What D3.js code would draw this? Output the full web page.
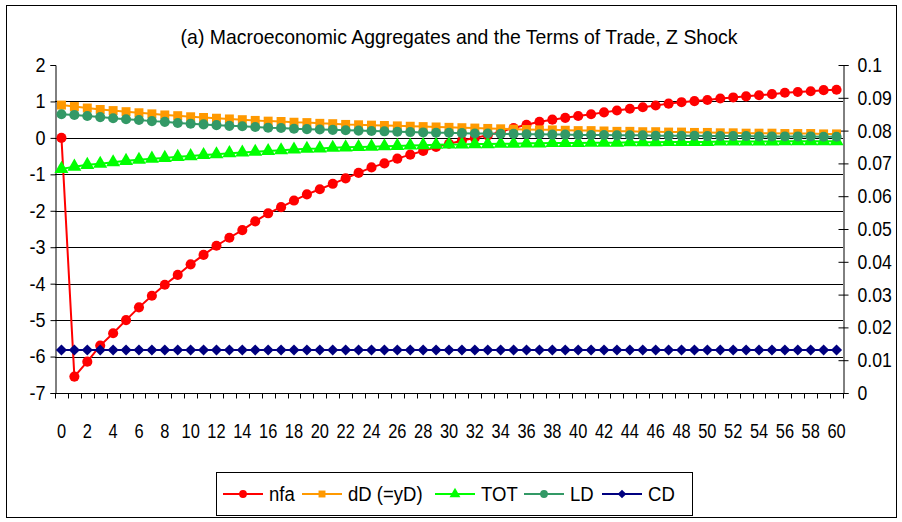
<!DOCTYPE html>
<html><head><meta charset="utf-8">
<script src="https://cdn.jsdelivr.net/npm/d3@7"></script>
<style>
body{margin:0;background:#fff;}
svg{display:block;font-family:"Liberation Sans",Arial,sans-serif;}
</style></head>
<body><svg id="c" width="902" height="522"></svg>
<script>
const title = "(a) Macroeconomic Aggregates and the Terms of Trade, Z Shock";
const periods = d3.range(0, 61);
const nfa = [0, -6.55, -6.14, -5.70, -5.36, -5.00, -4.65, -4.33, -4.03, -3.76, -3.47, -3.21, -2.96, -2.74, -2.53, -2.29, -2.07, -1.90, -1.72, -1.55, -1.41, -1.26, -1.11, -0.96, -0.81, -0.70, -0.57, -0.46, -0.36, -0.25, -0.16, -0.08, 0.00, 0.07, 0.17, 0.27, 0.36, 0.44, 0.50, 0.55, 0.60, 0.65, 0.70, 0.75, 0.80, 0.84, 0.89, 0.94, 0.98, 1.01, 1.04, 1.08, 1.11, 1.14, 1.17, 1.20, 1.24, 1.26, 1.28, 1.31, 1.32];
const dD = [0.90, 0.86, 0.82, 0.78, 0.75, 0.72, 0.69, 0.66, 0.63, 0.61, 0.58, 0.56, 0.54, 0.52, 0.50, 0.48, 0.46, 0.45, 0.43, 0.42, 0.40, 0.39, 0.37, 0.36, 0.35, 0.34, 0.33, 0.32, 0.31, 0.30, 0.29, 0.28, 0.27, 0.26, 0.25, 0.24, 0.23, 0.22, 0.22, 0.21, 0.20, 0.20, 0.19, 0.18, 0.18, 0.17, 0.17, 0.16, 0.16, 0.15, 0.15, 0.14, 0.14, 0.13, 0.13, 0.13, 0.12, 0.12, 0.12, 0.11, 0.11];
const TOT = [-0.85, -0.79, -0.74, -0.71, -0.67, -0.63, -0.60, -0.57, -0.55, -0.52, -0.50, -0.47, -0.45, -0.42, -0.40, -0.38, -0.36, -0.34, -0.32, -0.30, -0.29, -0.27, -0.26, -0.25, -0.24, -0.23, -0.22, -0.21, -0.20, -0.19, -0.18, -0.18, -0.17, -0.17, -0.16, -0.16, -0.15, -0.15, -0.14, -0.14, -0.14, -0.13, -0.13, -0.13, -0.12, -0.12, -0.12, -0.11, -0.11, -0.11, -0.11, -0.10, -0.10, -0.10, -0.10, -0.10, -0.09, -0.09, -0.09, -0.09, -0.09];
const LD = [0.65, 0.63, 0.60, 0.57, 0.54, 0.51, 0.49, 0.46, 0.44, 0.41, 0.39, 0.37, 0.35, 0.33, 0.32, 0.30, 0.28, 0.27, 0.25, 0.24, 0.23, 0.22, 0.21, 0.20, 0.19, 0.18, 0.17, 0.16, 0.15, 0.14, 0.14, 0.13, 0.12, 0.12, 0.11, 0.11, 0.10, 0.10, 0.09, 0.09, 0.08, 0.08, 0.08, 0.07, 0.07, 0.07, 0.06, 0.06, 0.06, 0.06, 0.05, 0.05, 0.05, 0.05, 0.04, 0.04, 0.04, 0.04, 0.04, 0.03, 0.03];
const CD = [0.0131, 0.0131, 0.0131, 0.0131, 0.0131, 0.0131, 0.0131, 0.0131, 0.0131, 0.0131, 0.0131, 0.0131, 0.0131, 0.0131, 0.0131, 0.0131, 0.0131, 0.0131, 0.0131, 0.0131, 0.0131, 0.0131, 0.0131, 0.0131, 0.0131, 0.0131, 0.0131, 0.0131, 0.0131, 0.0131, 0.0131, 0.0131, 0.0131, 0.0131, 0.0131, 0.0131, 0.0131, 0.0131, 0.0131, 0.0131, 0.0131, 0.0131, 0.0131, 0.0131, 0.0131, 0.0131, 0.0131, 0.0131, 0.0131, 0.0131, 0.0131, 0.0131, 0.0131, 0.0131, 0.0131, 0.0131, 0.0131, 0.0131, 0.0131, 0.0131, 0.0131];
const leftTicks = [-7, -6, -5, -4, -3, -2, -1, 0, 1, 2];
const rightTicks = [0, 0.01, 0.02, 0.03, 0.04, 0.05, 0.06, 0.07, 0.08, 0.09, 0.1];
const seriesNames = ["nfa", "dD (=yD)", "TOT", "LD", "CD"];

const series = [
  {name: seriesNames[0], values: nfa, color: "#FF0000", sym: "circle", axis: "L"},
  {name: seriesNames[1], values: dD, color: "#FF9900", sym: "square", axis: "L"},
  {name: seriesNames[2], values: TOT, color: "#00FF00", sym: "triangle", axis: "L"},
  {name: seriesNames[3], values: LD, color: "#339966", sym: "circle", axis: "L"},
  {name: seriesNames[4], values: CD, color: "#000080", sym: "diamond", axis: "R"}
];

function squeeze(sel, f) {
  sel.each(function () {
    const L = this.getComputedTextLength();
    if (L > 0) {
      this.setAttribute("textLength", L * f);
      this.setAttribute("lengthAdjust", "spacingAndGlyphs");
    }
  });
}

const svg = d3.select("#c");
const P = {l: 55, r: 843, t: 65, b: 393};

svg.append("rect").attr("x", 6.5).attr("y", 5.5).attr("width", 890).attr("height", 512)
  .attr("fill", "#fff").attr("stroke", "#000").attr("stroke-width", 1);

const tt = svg.append("text").attr("x", 459).attr("y", 44).attr("text-anchor", "middle")
  .attr("font-size", 21).text(title);
squeeze(tt, 0.925);

const xBand = d3.scaleBand().domain(periods).range([P.l, P.r]).paddingInner(0).paddingOuter(0);
const xPt = d => xBand(d) + xBand.bandwidth() / 2;
const yL = d3.scaleLinear().domain([-7, 2]).range([P.b, P.t]);
const yR = d3.scaleLinear().domain([0, 0.1]).range([P.b, P.t]);

// gridlines
svg.append("g").selectAll("line").data(leftTicks.filter(v => v > -7 && v < 2)).join("line")
  .attr("x1", P.l).attr("x2", P.r)
  .attr("y1", d => Math.round(yL(d)) + 0.5).attr("y2", d => Math.round(yL(d)) + 0.5)
  .attr("stroke", "#000").attr("stroke-width", 1);

// left axis
const gL = svg.append("g").attr("transform", `translate(${P.l + 0.5},0)`)
  .call(d3.axisLeft(yL).tickValues(leftTicks).tickSize(5).tickPadding(5).tickFormat(d => d));
gL.select(".domain").attr("stroke", "#000");
gL.selectAll("text").attr("font-size", 20).attr("fill", "#000").attr("font-family", "Liberation Sans, Arial, sans-serif");
squeeze(gL.selectAll("text"), 0.9);

// right axis
const gR = svg.append("g").attr("transform", `translate(${P.r + 0.5},0)`)
  .call(d3.axisRight(yR).tickValues(rightTicks).tickSize(5).tickPadding(9).tickFormat(d => String(d)));
gR.selectAll(".tick line").attr("x1", -5).attr("x2", 5);
gR.selectAll("text").attr("font-size", 20).attr("fill", "#000").attr("font-family", "Liberation Sans, Arial, sans-serif");
squeeze(gR.selectAll("text"), 0.88);

// bottom axis
const gB = svg.append("g").attr("transform", `translate(0,${P.b + 0.5})`)
  .call(d3.axisBottom(xBand).tickSize(0).tickPadding(30).tickFormat(d => d % 2 === 0 ? d : ""));
gB.select(".domain").remove();
gB.selectAll("text").attr("font-size", 20).attr("fill", "#000").attr("font-family", "Liberation Sans, Arial, sans-serif");
squeeze(gB.selectAll("text"), 0.82);
const bounds = periods.map(d => xBand(d)).concat([xBand(60) + xBand.bandwidth()]);
gB.append("line").attr("x1", P.l).attr("x2", P.r).attr("stroke", "#000");
gB.selectAll("line.bt").data(bounds).join("line").attr("class", "bt")
  .attr("x1", d => Math.round(d) + 0.5).attr("x2", d => Math.round(d) + 0.5)
  .attr("y1", 0).attr("y2", 5).attr("stroke", "#000");

function symPath(s, big) {
  const k = big ? 1 : 0.6;
  if (s === "circle") return d3.symbol(d3.symbolCircle, 80 * k)();
  if (s === "square") return d3.symbol(d3.symbolSquare, 80 * k)();
  if (s === "triangle") return d3.symbol(d3.symbolTriangle, 85 * k)();
  return d3.symbol(d3.symbolSquare, 62 * k)();
}

const plot = svg.append("g");
series.forEach(s => {
  const y = s.axis === "L" ? yL : yR;
  const line = d3.line().x((v, i) => xPt(periods[i])).y(v => y(v));
  plot.append("path").attr("d", line(s.values)).attr("fill", "none")
    .attr("stroke", s.color).attr("stroke-width", 2);
  plot.append("g").selectAll("path").data(s.values).join("path")
    .attr("d", symPath(s.sym, true))
    .attr("transform", (v, i) => `translate(${xPt(periods[i])},${y(v)})` + (s.sym === "diamond" ? " rotate(45)" : ""))
    .attr("fill", s.color);
});

// legend
const lg = svg.append("g");
lg.append("rect").attr("x", 216.5).attr("y", 472.5).attr("width", 476).attr("height", 43)
  .attr("fill", "#fff").attr("stroke", "#000");
const lx = [223, 302, 435, 524, 602];
series.forEach((s, i) => {
  const g = lg.append("g").attr("transform", `translate(${lx[i]},494)`);
  g.append("line").attr("x1", 0).attr("x2", 40).attr("stroke", s.color).attr("stroke-width", 2);
  g.append("path").attr("d", symPath(s.sym, false))
    .attr("transform", "translate(20,0)" + (s.sym === "diamond" ? " rotate(45)" : "")).attr("fill", s.color);
  const t = g.append("text").attr("x", 46).attr("y", 7).attr("font-size", 19.5).text(s.name);
  squeeze(t, 0.95);
});
</script></body></html>
